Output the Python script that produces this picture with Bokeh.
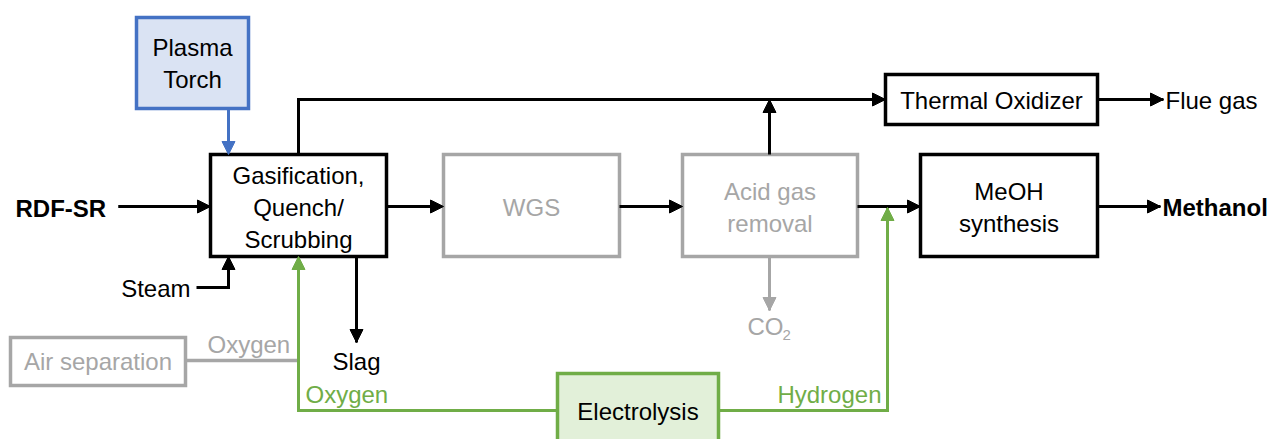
from bokeh.plotting import figure
from bokeh.models import Range1d, Arrow, NormalHead, ColumnDataSource
from bokeh.core.properties import value
from bokeh.embed import file_html
from bokeh.resources import INLINE

FONT = "Liberation Sans"
FS = "24px"

BLACK = "#000000"
GRAY = "#A6A6A6"
BLUE = "#4472C4"
BLUE_FILL = "#DAE3F3"
GREEN = "#70AD47"
GREEN_FILL = "#E2F0D9"

# Boxes: name, label, (x0, y0, x1, y1) in image pixels, line colour, fill colour
box_names = ["plasma", "gas", "wgs", "agr", "meoh", "thermo", "airsep", "elec"]
box_labels = ["Plasma\nTorch", "Gasification,\nQuench/\nScrubbing", "WGS",
              "Acid gas\nremoval", "MeOH\nsynthesis", "Thermal Oxidizer",
              "Air separation", "Electrolysis"]
box_x0 = [136, 210, 443, 682, 920, 885, 10, 557]
box_y0 = [17, 154, 154, 154, 154, 74, 337, 373]
box_x1 = [248, 386, 619, 857, 1097, 1097, 185, 718]
box_y1 = [108, 256, 256, 256, 256, 124, 385, 448]
box_line = [BLUE, BLACK, GRAY, GRAY, BLACK, BLACK, GRAY, GREEN]
box_fill = [BLUE_FILL, "#FFFFFF", "#FFFFFF", "#FFFFFF", "#FFFFFF", "#FFFFFF", "#FFFFFF", GREEN_FILL]
box_text_color = [BLACK, BLACK, GRAY, GRAY, BLACK, BLACK, GRAY, BLACK]
box_text_y = [63, 207, 207, 207, 207, 100, 361, 411]

# Flow paths (polyline points), colour, arrow at end?
flow_xs = [
    [118, 210], [386, 443], [619, 682], [857, 920], [1097, 1160], [1097, 1163],
    [298, 298, 885], [769, 769], [769, 769], [356, 356], [228, 228],
    [196, 228, 228], [557, 298, 298], [718, 887, 887], [185, 298],
]
flow_ys = [
    [206, 206], [206, 206], [206, 206], [206, 206], [206, 206], [99, 99],
    [154, 99, 99], [154, 99], [256, 310], [256, 342], [108, 154],
    [287, 287, 256], [410, 410, 256], [410, 410, 207], [360, 360],
]
flow_color = [BLACK, BLACK, BLACK, BLACK, BLACK, BLACK,
              BLACK, BLACK, GRAY, BLACK, BLUE,
              BLACK, GREEN, GREEN, GRAY]
flow_arrow = [True, True, True, True, True, True,
              True, True, True, True, True,
              True, True, True, False]

# Free labels
lab_text = ["RDF-SR", "Steam", "Slag", "Oxygen", "Oxygen", "Hydrogen", "Flue gas", "Methanol", "CO"]
lab_x = [15, 190, 356, 207, 305, 881, 1165, 1162, 765]
lab_y = [208, 288, 361, 344, 394, 394, 100, 207, 326]
lab_align = ["left", "right", "center", "left", "left", "right", "left", "left", "center"]
lab_color = [BLACK, BLACK, BLACK, GRAY, GREEN, GREEN, BLACK, BLACK, GRAY]
lab_style = ["bold", "normal", "normal", "normal", "normal", "normal", "normal", "bold", "normal"]

p = figure(width=1272, height=439, output_backend="svg", toolbar_location=None,
           x_range=Range1d(0, 1272), y_range=Range1d(439, 0),
           min_border=0, outline_line_color=None)
p.axis.visible = False
p.grid.visible = False
p.background_fill_color = "#FFFFFF"
p.border_fill_color = "#FFFFFF"

# lines
for xs, ys, c, a in zip(flow_xs, flow_ys, flow_color, flow_arrow):
    if a:
        p.line(xs, ys, line_color=c, line_width=3, line_join="miter")
        p.add_layout(Arrow(x_start=xs[-2], y_start=ys[-2], x_end=xs[-1], y_end=ys[-1],
                           line_color=c, line_width=3,
                           end=NormalHead(size=13, line_color=c, fill_color=c, line_width=1)))
    else:
        p.line(xs, ys, line_color=c, line_width=3.5)

# boxes
bsrc = ColumnDataSource(dict(left=box_x0, right=box_x1, top=box_y0, bottom=box_y1,
                             lc=box_line, fc=box_fill))
p.quad(left="left", right="right", top="top", bottom="bottom", source=bsrc,
       line_color="lc", fill_color="fc", line_width=3.5, line_join="miter")

tsrc = ColumnDataSource(dict(x=[(a + b) / 2 for a, b in zip(box_x0, box_x1)],
                             y=box_text_y, t=box_labels, c=box_text_color))
p.text(x="x", y="y", text="t", text_color="c", source=tsrc, text_align="center",
       text_baseline="middle", text_font=value(FONT), text_font_size=FS,
       text_line_height=1.2)

for t, x, y, al, c, st in zip(lab_text, lab_x, lab_y, lab_align, lab_color, lab_style):
    p.text(x=[x], y=[y], text=[t], text_color=c, text_align=al, text_baseline="middle",
           text_font=value(FONT), text_font_size=FS, text_font_style=st)

# subscript of CO2
p.text(x=[782], y=[334], text=["2"], text_color=GRAY, text_align="left",
       text_baseline="middle", text_font=value(FONT), text_font_size="15px")

open("out.html", "w").write(file_html(p, INLINE))
